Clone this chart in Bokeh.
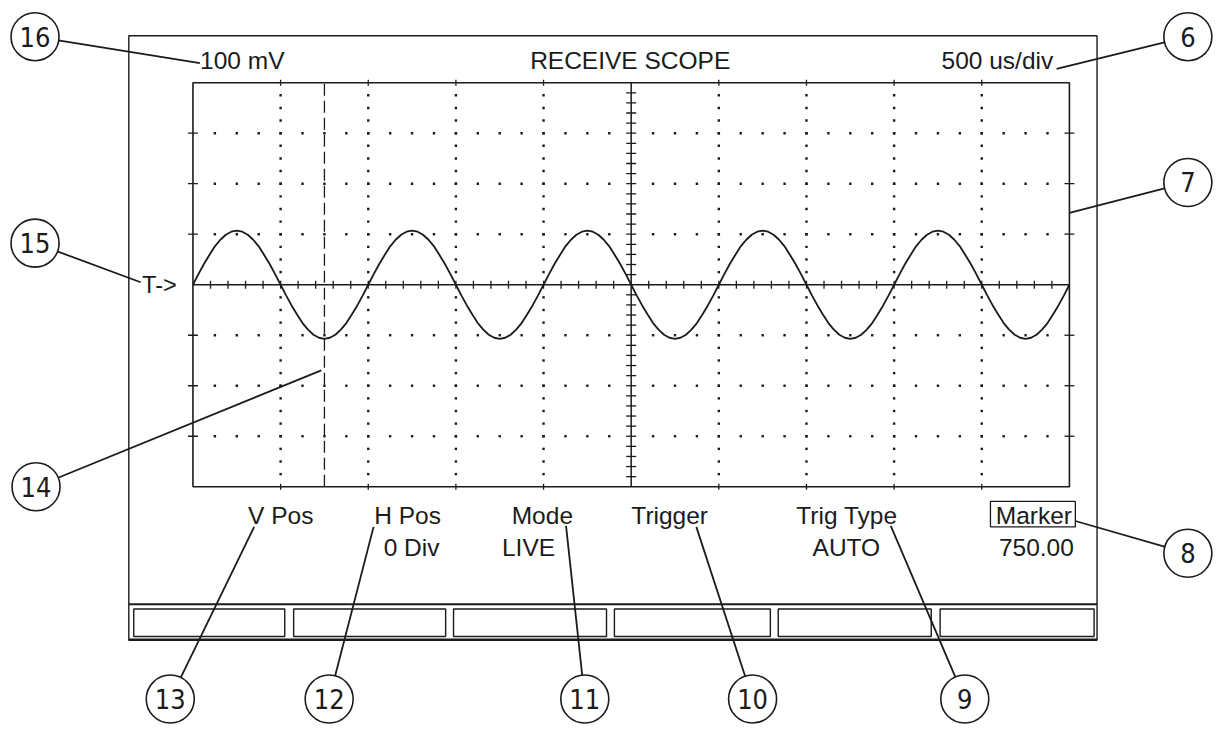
import numpy as np
from bokeh.plotting import figure
from bokeh.models import Range1d
from bokeh.core.properties import value
from bokeh.embed import file_html
from bokeh.resources import INLINE

# ---------------- data ----------------
title_text = "RECEIVE SCOPE"
scale_label = "100 mV"
timebase_label = "500 us/div"
trigger_label = "T->"
mv_per_div = 100
us_per_div = 500
h_divs = 10
v_divs = 8
marker_us = 750.0
sample_interval_us = 31.25          # one trace sample every 1/16 division
trace_mv = [
    0, 21, 41, 59, 76, 89, 99, 105, 107, 105, 99, 89, 76, 59, 41, 21,
    0, -21, -41, -59, -76, -89, -99, -105, -107, -105, -99, -89, -76, -59, -41, -21,
    0, 21, 41, 59, 76, 89, 99, 105, 107, 105, 99, 89, 76, 59, 41, 21,
    0, -21, -41, -59, -76, -89, -99, -105, -107, -105, -99, -89, -76, -59, -41, -21,
    0, 21, 41, 59, 76, 89, 99, 105, 107, 105, 99, 89, 76, 59, 41, 21,
    0, -21, -41, -59, -76, -89, -99, -105, -107, -105, -99, -89, -76, -59, -41, -21,
    0, 21, 41, 59, 76, 89, 99, 105, 107, 105, 99, 89, 76, 59, 41, 21,
    0, -21, -41, -59, -76, -89, -99, -105, -107, -105, -99, -89, -76, -59, -41, -21,
    0, 21, 41, 59, 76, 89, 99, 105, 107, 105, 99, 89, 76, 59, 41, 21,
    0, -21, -41, -59, -76, -89, -99, -105, -107, -105, -99, -89, -76, -59, -41, -21,
    0,
]
softkey_titles = ["V Pos", "H Pos", "Mode", "Trigger", "Trig Type", "Marker"]
softkey_values = ["0 Div", "LIVE", "AUTO", "750.00"]
callout_numbers = ["16", "6", "7", "8", "9", "10", "11", "12", "13", "14", "15"]

# ---------------- layout (reference-picture pixels, scaled to the canvas) ----------------
REF_W, REF_H = 1230, 740
W, H = 1214, 724
GX0, GX1, GY0, GY1 = 195, 1083, 84, 497
T_SPAN = h_divs * us_per_div
V_SPAN = v_divs * mv_per_div


def X(px):
    return (px - GX0) / (GX1 - GX0) * T_SPAN


def Y(py):
    return V_SPAN / 2 - (py - GY0) / (GY1 - GY0) * V_SPAN


INK = "#1b1b1b"
FONT = value("Liberation Sans")
NUM_FONT = value("Liberation Sans Narrow, DejaVu Sans Condensed, Liberation Sans, sans-serif")
FS = "24.5px"

p = figure(width=W, height=H, x_range=Range1d(X(0), X(REF_W)),
           y_range=Range1d(Y(REF_H), Y(0)), output_backend="svg",
           toolbar_location=None, x_axis_type=None, y_axis_type=None,
           min_border=0, outline_line_color=None,
           background_fill_color="white", border_fill_color="white")

# outer instrument frame and soft-key strip
p.quad(left=[X(130)], right=[X(1111)], top=[Y(36)], bottom=[Y(654)],
       fill_color=None, line_color=INK, line_width=1.4)
p.segment(x0=[X(130), X(130)], y0=[Y(617), Y(653)], x1=[X(1111), X(1111)],
          y1=[Y(617), Y(653)], line_color=INK, line_width=2)
key_l = [135, 297, 459, 622, 788, 952]
key_r = [288, 451, 614, 780, 943, 1108]
p.quad(left=[X(v) for v in key_l], right=[X(v) for v in key_r],
       top=[Y(622)] * 6, bottom=[Y(650)] * 6,
       fill_color=None, line_color=INK, line_width=1.4)

# graticule
half_v = V_SPAN / 2
p.quad(left=[0], right=[T_SPAN], top=[half_v], bottom=[-half_v],
       fill_color=None, line_color=INK, line_width=1.6)
p.segment(x0=[0, T_SPAN / 2], y0=[0, -half_v], x1=[T_SPAN, T_SPAN / 2],
          y1=[0, half_v], line_color=INK, line_width=1.5)

# dotted division lines (4 dots per division)
dx, dy = [], []
for k in range(1, h_divs):
    if k == h_divs // 2:
        continue
    for j in range(-4 * (v_divs // 2) + 1, 4 * (v_divs // 2)):
        if j == 0:
            continue
        dx.append(k * us_per_div)
        dy.append(j * mv_per_div / 4)
for k in range(-(v_divs // 2) + 1, v_divs // 2):
    if k == 0:
        continue
    for j in range(1, 4 * h_divs):
        if j == 2 * h_divs:
            continue
        dx.append(j * us_per_div / 4)
        dy.append(k * mv_per_div)
p.scatter(dx, dy, marker="square", size=2.4, fill_color=INK, line_color=None)

# minor ticks on centre lines (5 per division)
cx = [j * us_per_div / 5 for j in range(1, 5 * h_divs) if j != 5 * h_divs // 2]
p.scatter(cx, [0] * len(cx), marker="dash", size=8, angle=np.pi / 2,
          line_color=INK, line_width=1.3)
cy = [j * mv_per_div / 5 for j in range(-5 * v_divs // 2 + 1, 5 * v_divs // 2) if j != 0]
p.scatter([T_SPAN / 2] * len(cy), cy, marker="dash", size=10,
          line_color=INK, line_width=1.3)
# border ticks
by = [k * mv_per_div for k in range(-(v_divs // 2) + 1, v_divs // 2) if k != 0]
p.scatter([0] * len(by) + [T_SPAN] * len(by), by + by, marker="dash", size=10,
          line_color=INK, line_width=1.3)
bx = [k * us_per_div for k in range(1, h_divs) if k != h_divs // 2]
p.scatter(bx + bx, [half_v] * len(bx) + [-half_v] * len(bx), marker="dash",
          size=6, angle=np.pi / 2, line_color=INK, line_width=1.3)

# marker cursor
p.segment(x0=[marker_us], y0=[-half_v], x1=[marker_us], y1=[half_v],
          line_color=INK, line_width=1.3, line_dash="12 5")

# trace
t_us = [i * sample_interval_us for i in range(len(trace_mv))]
p.line(t_us, trace_mv, line_color=INK, line_width=1.8)

# screen texts (y = middle of the capitals)
p.text(x=[X(245), X(638), X(1010)], y=[Y(61)] * 3,
       text=[scale_label, title_text, timebase_label],
       text_font=FONT, text_font_size=FS, text_align="center",
       text_baseline="middle", text_color=INK)
p.text(x=[X(161)], y=[Y(291)], text=[trigger_label], text_font=FONT,
       text_font_size="23.5px", text_align="center", text_baseline="middle",
       text_color=INK)
p.text(x=[X(v) for v in [284, 412.5, 549, 678, 857.5, 1047]], y=[Y(526)] * 6,
       text=softkey_titles, text_font=FONT, text_font_size=FS,
       text_align="center", text_baseline="middle", text_color=INK)
p.text(x=[X(v) for v in [416.5, 535, 857, 1049.5]], y=[Y(559)] * 4,
       text=softkey_values, text_font=FONT, text_font_size=FS,
       text_align="center", text_baseline="middle", text_color=INK)
p.quad(left=[X(1003)], right=[X(1089)], top=[Y(512)], bottom=[Y(538)],
       fill_color=None, line_color=INK, line_width=1.3)

# callouts
cc = [(35, 37), (1203, 37), (1203, 186), (1203, 565), (977, 714), (762, 714),
      (592, 714), (333, 714), (172, 714), (36, 497), (35, 248)]
tg = [(202, 64), (1070, 70), (1083, 217), (1089, 532), (902, 537), (705, 538),
      (573, 537), (378, 538), (257, 538), (325, 378), (142, 288)]
p.segment(x0=[X(a) for a, b in cc], y0=[Y(b) for a, b in cc],
          x1=[X(a) for a, b in tg], y1=[Y(b) for a, b in tg],
          line_color=INK, line_width=1.8)
p.scatter([X(a) for a, b in cc], [Y(b) for a, b in cc], marker="circle",
          size=48, fill_color="white", line_color=INK, line_width=1.6)
p.text(x=[X(a) for a, b in cc], y=[Y(b) for a, b in cc],
       text=callout_numbers, text_font=NUM_FONT, text_font_size="27px",
       text_align="center", text_baseline="middle", text_color=INK)

open("out.html", "w").write(file_html(p, INLINE))
